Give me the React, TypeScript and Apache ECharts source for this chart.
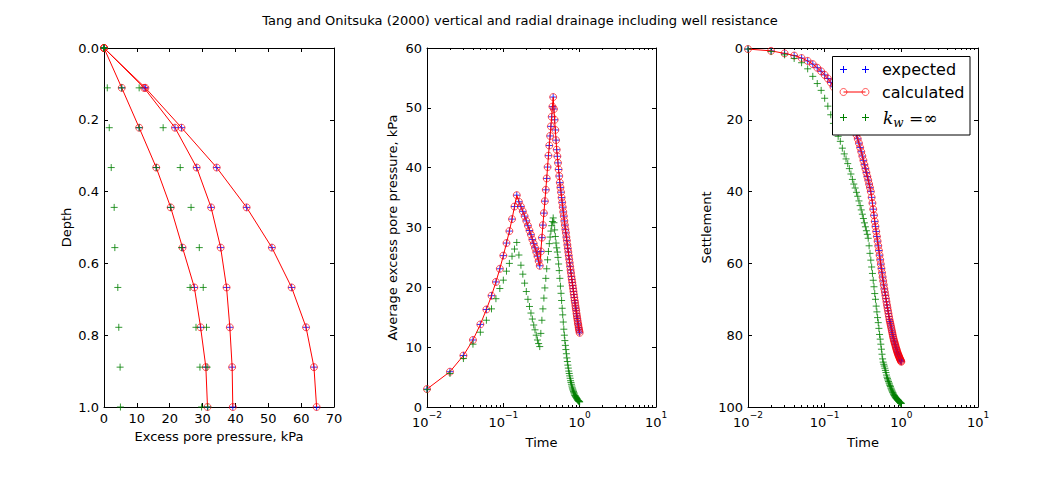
import React, { useEffect, useRef } from "react";
import * as echarts from "echarts";

// ---------------- DATA ----------------
const TITLE = "Tang and Onitsuka (2000) vertical and radial drainage including well resistance";

// Left panel: depth profiles of excess pore pressure
const DEPTH = [0, 0.111, 0.222, 0.333, 0.444, 0.556, 0.667, 0.778, 0.889, 1.0];
const P_CALC_A = [0, 5.4, 10.7, 15.9, 20.3, 23.9, 27.5, 29.4, 31.0, 31.5];
const P_CALC_B = [0, 12.2, 21.6, 28.2, 32.6, 35.5, 37.3, 38.3, 39.0, 39.2];
const P_CALC_C = [0, 12.6, 23.6, 34.3, 43.4, 51.1, 57.1, 61.5, 63.9, 64.7];
const P_KINF_A = [0, 1.0, 1.6, 2.2, 3.1, 3.3, 4.2, 4.5, 4.9, 5.0];
const P_KINF_B = [0, 5.4, 10.7, 15.9, 20.3, 23.6, 26.2, 28.0, 29.2, 29.7];
const P_KINF_C = [0, 10.7, 18.0, 23.2, 26.5, 29.0, 30.2, 31.2, 31.4, 31.6];

// Time values (middle and right panels)
const TIME = [
  0.01, 0.02, 0.03, 0.04, 0.05, 0.06, 0.07, 0.08, 0.09, 0.10,
  0.11, 0.12, 0.13, 0.14, 0.15, 0.16, 0.17, 0.18, 0.19, 0.20,
  0.21, 0.22, 0.23, 0.24, 0.25, 0.26, 0.27, 0.28, 0.29, 0.30,
  0.31, 0.32, 0.33, 0.34, 0.35, 0.36, 0.37, 0.38, 0.39, 0.40,
  0.41, 0.42, 0.43, 0.44, 0.45, 0.46, 0.47, 0.48, 0.49, 0.50,
  0.51, 0.52, 0.53, 0.54, 0.55, 0.56, 0.57, 0.58, 0.59, 0.60,
  0.61, 0.62, 0.63, 0.64, 0.65, 0.66, 0.67, 0.68, 0.69, 0.70,
  0.71, 0.72, 0.73, 0.74, 0.75, 0.76, 0.77, 0.78, 0.79, 0.80,
  0.81, 0.82, 0.83, 0.84, 0.85, 0.86, 0.87, 0.88, 0.89, 0.90,
  0.91, 0.92, 0.93, 0.94, 0.95, 0.96, 0.97, 0.98, 0.99, 1.00,
];

// Average excess pore pressure (kPa)
const U_CALC = [
  3.0, 5.9, 8.6, 11.2, 13.8, 16.3, 18.6, 20.9, 23.1, 25.3,
  27.4, 29.4, 31.4, 33.5, 35.4, 34.3, 33.5, 32.7, 31.9, 31.1,
  30.3, 29.5, 28.8, 28.0, 27.3, 26.6, 25.9, 25.2, 24.4, 23.6,
  26.0, 28.3, 30.4, 32.4, 34.4, 36.3, 38.2, 40.1, 42.0, 43.7,
  45.3, 46.9, 48.5, 50.2, 51.8, 49.8, 48.0, 46.3, 44.6, 43.0,
  41.9, 40.8, 39.7, 38.6, 37.5, 36.7, 35.9, 35.0, 34.2, 33.4,
  32.6, 31.9, 31.1, 30.4, 29.7, 29.1, 28.4, 27.8, 27.1, 26.5,
  25.9, 25.3, 24.7, 24.1, 23.5, 22.9, 22.4, 21.8, 21.3, 20.8,
  20.3, 19.8, 19.3, 18.8, 18.3, 17.8, 17.4, 16.9, 16.5, 16.1,
  15.6, 15.2, 14.8, 14.4, 14.0, 13.7, 13.3, 13.0, 12.7, 12.4,
];
const U_KINF = [
  2.9, 5.6, 8.1, 10.5, 12.5, 14.5, 16.4, 18.1, 19.8, 21.2,
  22.7, 24.0, 25.2, 26.4, 27.5, 25.4, 23.7, 22.2, 20.7, 19.3,
  18.0, 16.8, 15.7, 14.7, 13.7, 12.9, 12.0, 11.2, 10.6, 10.1,
  12.3, 14.5, 16.4, 18.2, 19.9, 21.5, 23.1, 24.6, 26.0, 27.3,
  28.4, 29.4, 30.3, 31.0, 31.6, 30.8, 29.6, 28.5, 27.4, 26.6,
  25.9, 25.0, 23.9, 22.8, 21.5, 20.2, 19.0, 17.8, 16.5, 15.4,
  14.2, 13.0, 12.0, 11.1, 10.3, 9.6, 8.9, 8.2, 7.6, 7.0,
  6.5, 6.0, 5.6, 5.2, 4.8, 4.4, 4.1, 3.8, 3.5, 3.2,
  3.0, 2.8, 2.6, 2.4, 2.2, 2.0, 1.9, 1.8, 1.7, 1.6,
  1.5, 1.4, 1.3, 1.2, 1.1, 1.05, 1.0, 0.95, 0.9, 0.85,
];

// Settlement
const S_CALC = [
  0.3, 0.8, 1.5, 2.1, 2.8, 3.6, 4.5, 5.5, 6.5, 7.5,
  8.5, 9.6, 10.8, 11.9, 13.0, 14.0, 15.0, 16.0, 17.0, 18.0,
  19.0, 20.0, 21.0, 22.0, 23.1, 24.2, 25.3, 26.5, 27.7, 28.9,
  30.1, 31.3, 32.5, 33.6, 34.7, 35.8, 36.8, 37.9, 38.9, 40.0,
  41.6, 43.2, 44.9, 46.6, 48.3, 49.7, 51.1, 52.5, 53.8, 55.1,
  56.4, 57.7, 59.0, 60.2, 61.4, 62.6, 63.8, 64.9, 66.0, 67.1,
  68.0, 68.9, 69.8, 70.7, 71.6, 72.4, 73.2, 74.0, 74.8, 75.6,
  76.2, 76.8, 77.4, 78.0, 78.6, 79.2, 79.8, 80.4, 80.9, 81.4,
  81.8, 82.2, 82.6, 83.0, 83.4, 83.8, 84.1, 84.5, 84.8, 85.1,
  85.4, 85.6, 85.9, 86.1, 86.4, 86.6, 86.8, 87.0, 87.2, 87.4,
];
const S_KINF = [
  0.3, 1.0, 1.9, 2.9, 4.1, 5.8, 7.9, 9.9, 11.8, 14.0,
  16.2, 18.6, 21.0, 23.0, 24.6, 26.0, 27.9, 29.5, 30.9, 32.2,
  33.6, 35.1, 36.6, 37.9, 39.0, 40.2, 41.3, 42.6, 43.9, 45.1,
  46.3, 47.5, 48.7, 49.8, 50.9, 51.9, 53.0, 55.1, 57.2, 59.1,
  61.0, 62.8, 64.7, 66.5, 68.4, 70.0, 71.9, 73.5, 75.1, 76.5,
  78.1, 79.8, 81.1, 82.5, 83.9, 85.3, 86.6, 87.5, 88.1, 88.6,
  89.2, 89.8, 90.4, 91.1, 91.7, 92.1, 92.5, 92.9, 93.3, 93.6,
  94.0, 94.3, 94.7, 95.0, 95.3, 95.6, 95.9, 96.1, 96.4, 96.6,
  96.8, 97.0, 97.2, 97.3, 97.5, 97.6, 97.7, 97.9, 98.0, 98.1,
  98.2, 98.3, 98.4, 98.5, 98.6, 98.7, 98.8, 98.9, 98.95, 99.0,
];

const LEGEND_LABELS = ["expected", "calculated"];
const LOG_MAJOR = [0.01, 0.1, 1, 10];

// ---------------- STYLE ----------------
const FONT = "DejaVu Sans";
const BLACK = "#000000";
const BLUE = "#0000ff";
const RED = "#ff0000";
const RED_MARK = "rgba(255,0,0,0.65)";
const GREEN = "#008000";
const PLUS = "path://M4,0L4,8M0,4L8,4";
const MAJOR_LEN = 4;
const MINOR_LEN = 2;

const GRIDS = [
  { left: 104, top: 48, width: 230, height: 359 },
  { left: 427, top: 48, width: 229, height: 359 },
  { left: 748, top: 48, width: 230, height: 359 },
];

const logMinor: number[] = [];
[0.01, 0.1, 1].forEach((d) => {
  for (let k = 2; k <= 9; k++) logMinor.push(+(k * d).toPrecision(3));
});

const tickStyle = (len: number) => ({
  show: true,
  inside: true,
  length: len,
  lineStyle: { color: BLACK, width: 1 },
});
const lineOn = { show: true, onZero: false, lineStyle: { color: BLACK, width: 1 } };
const lineOff = { show: false, onZero: false };

const nameStyle = { fontSize: 13, fontFamily: FONT, color: BLACK };

function pairs(xs: number[], ys: number[]) {
  return xs.map((x, i) => [x, ys[i]]);
}

const expFmt = (v: number) => {
  const e = Math.round(Math.log10(v));
  return `{b|10}{s|${e < 0 ? "\u2212" + Math.abs(e) : e}}`;
};

function buildOption() {
  const xAxis: any[] = [];
  const yAxis: any[] = [];

  xAxis.push({
    gridIndex: 0, type: "value", position: "bottom", min: 0, max: 70, interval: 10,
    axisLine: lineOn,
    axisTick: tickStyle(MAJOR_LEN),
    axisLabel: { color: BLACK, fontSize: 13, fontFamily: FONT, margin: 5 },
    splitLine: { show: false },
    name: "Excess pore pressure, kPa", nameLocation: "middle", nameGap: 23, nameTextStyle: nameStyle,
  });
  xAxis.push({
    gridIndex: 0, type: "value", position: "top", min: 0, max: 70, interval: 10,
    axisLine: lineOn,
    axisTick: tickStyle(MAJOR_LEN), axisLabel: { show: false }, splitLine: { show: false },
  });

  [1, 2].forEach((g) => {
    xAxis.push({
      gridIndex: g, type: "log", logBase: 10, position: "bottom", min: 0.01, max: 10,
      axisLine: lineOn,
      axisTick: { ...tickStyle(MAJOR_LEN), customValues: LOG_MAJOR },
      axisLabel: {
        customValues: LOG_MAJOR,
        formatter: expFmt,
        margin: 3,
        rich: {
          b: { fontSize: 13, fontFamily: FONT, color: BLACK, lineHeight: 19, verticalAlign: "bottom" },
          s: { fontSize: 9, fontFamily: FONT, color: BLACK, lineHeight: 10, verticalAlign: "top" },
        },
      },
      splitLine: { show: false },
      name: "Time", nameLocation: "middle", nameGap: 29, nameTextStyle: nameStyle,
    });
    xAxis.push({
      gridIndex: g, type: "log", logBase: 10, position: "top", min: 0.01, max: 10,
      axisLine: lineOn,
      axisTick: { ...tickStyle(MAJOR_LEN), customValues: LOG_MAJOR },
      axisLabel: { show: false }, splitLine: { show: false },
    });
    xAxis.push({
      gridIndex: g, type: "log", logBase: 10, position: "bottom", min: 0.01, max: 10,
      axisLine: lineOff,
      axisTick: { ...tickStyle(MINOR_LEN), customValues: logMinor },
      axisLabel: { show: false }, splitLine: { show: false },
    });
    xAxis.push({
      gridIndex: g, type: "log", logBase: 10, position: "top", min: 0.01, max: 10,
      axisLine: lineOff,
      axisTick: { ...tickStyle(MINOR_LEN), customValues: logMinor },
      axisLabel: { show: false }, splitLine: { show: false },
    });
  });

  const yDefs = [
    { min: 0, max: 1, interval: 0.2, inverse: true, name: "Depth", gap: 31, fmt: (v: number) => v.toFixed(1) },
    { min: 0, max: 60, interval: 10, inverse: false, name: "Average excess pore pressure, kPa", gap: 28, fmt: (v: number) => String(v) },
    { min: 0, max: 100, interval: 20, inverse: true, name: "Settlement", gap: 35, fmt: (v: number) => String(v) },
  ];
  yDefs.forEach((d, g) => {
    yAxis.push({
      gridIndex: g, type: "value", position: "left", min: d.min, max: d.max, interval: d.interval, inverse: d.inverse,
      axisLine: lineOn,
      axisTick: tickStyle(MAJOR_LEN),
      axisLabel: { color: BLACK, fontSize: 13, fontFamily: FONT, margin: 5, formatter: d.fmt },
      splitLine: { show: false },
      name: d.name, nameLocation: "middle", nameGap: d.gap, nameTextStyle: nameStyle,
    });
    yAxis.push({
      gridIndex: g, type: "value", position: "right", min: d.min, max: d.max, interval: d.interval, inverse: d.inverse,
      axisLine: lineOn,
      axisTick: tickStyle(MAJOR_LEN), axisLabel: { show: false }, splitLine: { show: false },
    });
  });

  const plusSeries = (name: string, data: number[][], color: string, xi: number, yi: number, z: number) => ({
    name, type: "scatter", xAxisIndex: xi, yAxisIndex: yi, data,
    symbol: PLUS, symbolSize: 7,
    itemStyle: { color: "transparent", borderColor: color, borderWidth: 1 },
    emphasis: { disabled: true }, z,
  });
  const lineSeries = (name: string, data: number[][], xi: number, yi: number) => ({
    name, type: "line", xAxisIndex: xi, yAxisIndex: yi, data,
    symbol: "circle", symbolSize: 7, showAllSymbol: true,
    lineStyle: { color: RED, width: 1 },
    itemStyle: { color: "transparent", borderColor: RED_MARK, borderWidth: 1 },
    emphasis: { disabled: true }, z: 3,
  });

  const series: any[] = [];
  const leftCalc = [P_CALC_A, P_CALC_B, P_CALC_C];
  const leftKinf = [P_KINF_A, P_KINF_B, P_KINF_C];
  leftCalc.forEach((p) => series.push(plusSeries(LEGEND_LABELS[0], pairs(p, DEPTH), BLUE, 0, 0, 2)));
  leftCalc.forEach((p) => series.push(lineSeries(LEGEND_LABELS[1], pairs(p, DEPTH), 0, 0)));
  leftKinf.forEach((p) => series.push(plusSeries("kinf", pairs(p, DEPTH), GREEN, 0, 0, 4)));

  series.push(plusSeries(LEGEND_LABELS[0], pairs(TIME, U_CALC), BLUE, 2, 2, 2));
  series.push(lineSeries(LEGEND_LABELS[1], pairs(TIME, U_CALC), 2, 2));
  series.push(plusSeries("kinf", pairs(TIME, U_KINF), GREEN, 2, 2, 4));

  series.push(plusSeries(LEGEND_LABELS[0], pairs(TIME, S_CALC), BLUE, 6, 4, 2));
  series.push(lineSeries(LEGEND_LABELS[1], pairs(TIME, S_CALC), 6, 4));
  series.push(plusSeries("kinf", pairs(TIME, S_KINF), GREEN, 6, 4, 4));

  // Legend drawn with graphic elements (on top of the series)
  const Z = 200;
  const lx1 = 843.5, lx2 = 865.5;
  const rows = [69.5, 92, 117.5];
  const plusEls = (cx: number, cy: number, color: string) => [
    { type: "line", z: Z + 1, shape: { x1: cx - 3.5, y1: cy, x2: cx + 3.5, y2: cy }, style: { stroke: color, lineWidth: 1 } },
    { type: "line", z: Z + 1, shape: { x1: cx, y1: cy - 3.5, x2: cx, y2: cy + 3.5 }, style: { stroke: color, lineWidth: 1 } },
  ];
  const textStyle = { fontSize: 16, fontFamily: FONT, fill: BLACK, verticalAlign: "middle", align: "left" };
  const legendEls: any[] = [
    { type: "rect", z: Z, shape: { x: 832.5, y: 56.5, width: 137.5, height: 78.5 }, style: { fill: "#ffffff", stroke: BLACK, lineWidth: 1 } },
    ...plusEls(lx1, rows[0], BLUE), ...plusEls(lx2, rows[0], BLUE),
    { type: "text", z: Z + 1, x: 882, y: rows[0], style: { ...textStyle, text: LEGEND_LABELS[0] } },
    { type: "line", z: Z + 1, shape: { x1: lx1, y1: rows[1], x2: lx2, y2: rows[1] }, style: { stroke: RED, lineWidth: 1 } },
    { type: "circle", z: Z + 2, shape: { cx: lx1, cy: rows[1], r: 3.5 }, style: { fill: "none", stroke: RED_MARK, lineWidth: 1 } },
    { type: "circle", z: Z + 2, shape: { cx: lx2, cy: rows[1], r: 3.5 }, style: { fill: "none", stroke: RED_MARK, lineWidth: 1 } },
    { type: "text", z: Z + 1, x: 882, y: rows[1], style: { ...textStyle, text: LEGEND_LABELS[1] } },
    ...plusEls(lx1, rows[2], GREEN), ...plusEls(lx2, rows[2], GREEN),
    {
      type: "text", z: Z + 1, x: 883, y: rows[2],
      style: {
        text: "{k|k}{w|w}{e| =\u221E}",
        verticalAlign: "middle", align: "left",
        rich: {
          k: { fontSize: 17, fontFamily: "DejaVu Serif", fontStyle: "italic", fill: BLACK, lineHeight: 22, verticalAlign: "middle" },
          w: { fontSize: 12, fontFamily: "DejaVu Serif", fontStyle: "italic", fill: BLACK, lineHeight: 13, verticalAlign: "bottom" },
          e: { fontSize: 17, fontFamily: "DejaVu Serif", fill: BLACK, lineHeight: 22, verticalAlign: "middle" },
        },
      },
    },
  ];

  return {
    animation: false,
    backgroundColor: "#ffffff",
    title: {
      text: TITLE, left: "center", top: 9,
      textStyle: { fontSize: 13, fontWeight: "normal", fontFamily: FONT, color: BLACK },
    },
    grid: GRIDS,
    xAxis, yAxis, series,
    graphic: legendEls,
  };
}

export default function App() {
  const ref = useRef<HTMLDivElement>(null);
  useEffect(() => {
    if (!ref.current) return;
    const chart = echarts.init(ref.current, undefined, { renderer: "svg" });
    chart.setOption(buildOption() as any);
    return () => chart.dispose();
  }, []);
  return (
    <div
      ref={ref}
      style={{ position: "fixed", left: 0, top: 0, width: 1040, height: 480, background: "#fff" }}
    />
  );
}
